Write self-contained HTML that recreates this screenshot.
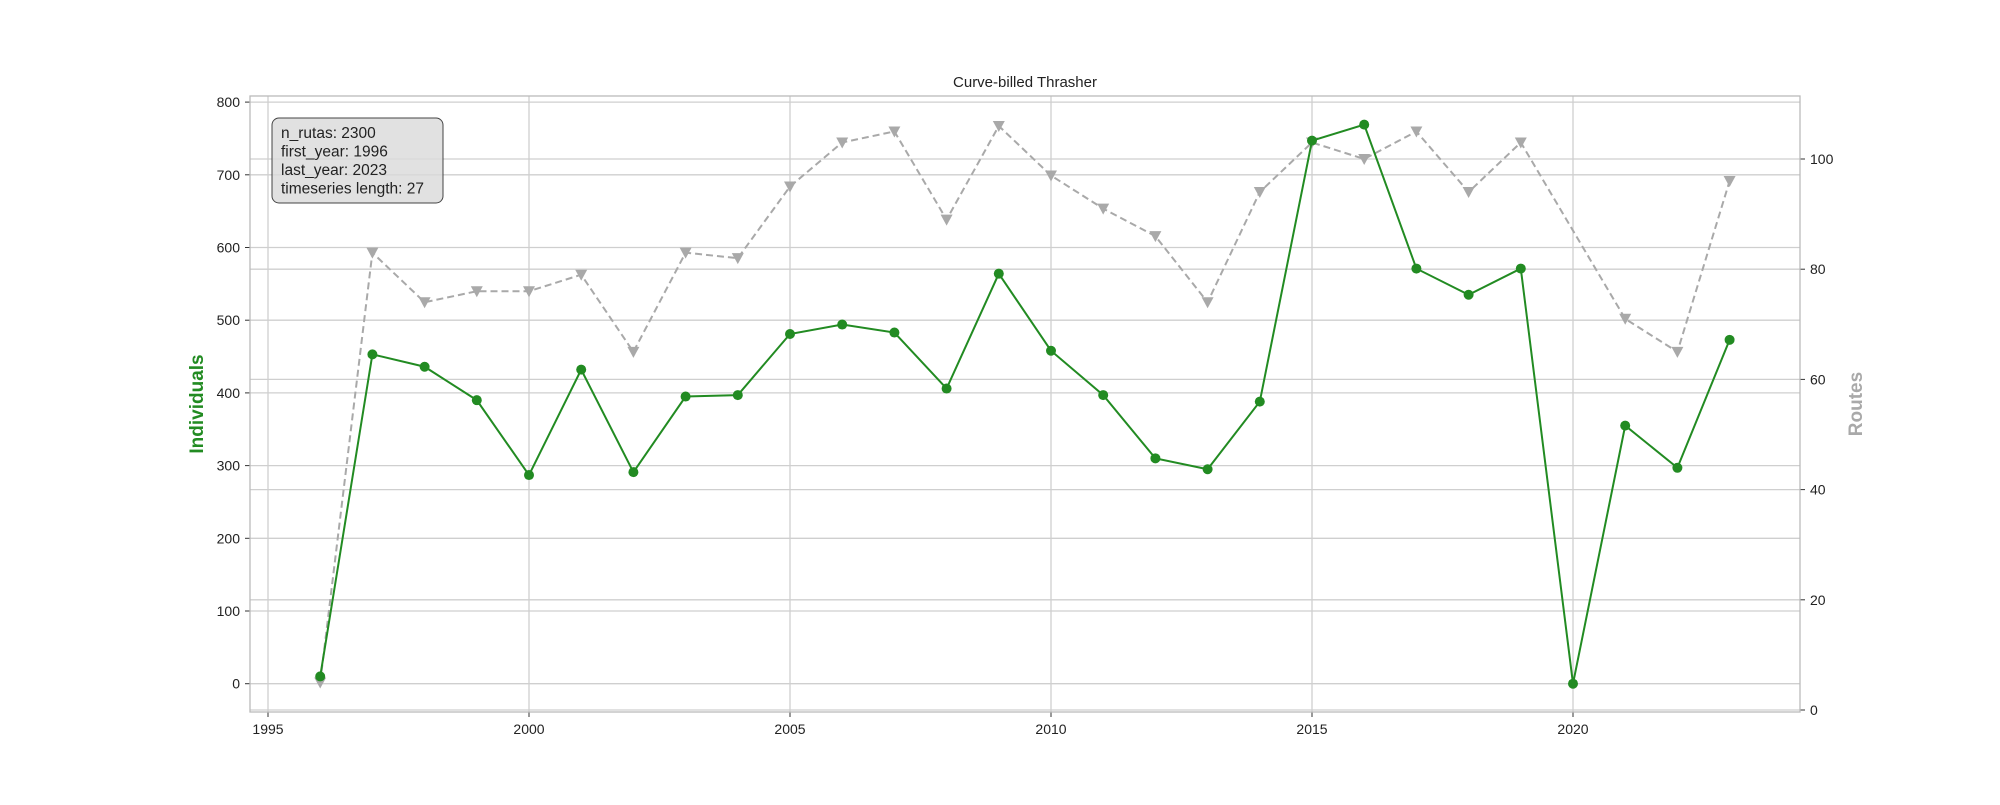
<!DOCTYPE html>
<html><head><meta charset="utf-8"><style>
body{margin:0;background:#fff;}
svg text{font-family:"Liberation Sans","DejaVu Sans",sans-serif;}
</style></head><body>
<svg id="chart" width="2000" height="800" xmlns="http://www.w3.org/2000/svg">
<rect width="2000" height="800" fill="#fff"/>
<g id="grid"></g>
<g id="series"></g>
<g id="axes"></g>
<text x="1025" y="87" text-anchor="middle" font-size="15" fill="#222">Curve-billed Thrasher</text>
<text transform="translate(203,404) rotate(-90)" text-anchor="middle" font-size="19" font-weight="bold" fill="#228b22">Individuals</text>
<text transform="translate(1862,404) rotate(-90)" text-anchor="middle" font-size="19" font-weight="bold" fill="#a9a9a9">Routes</text>
<g>
<rect x="272" y="118" width="171" height="85" rx="7" fill="#d9d9d9" fill-opacity="0.8" stroke="#444" stroke-width="1"/>
<text font-size="15.5" fill="#222"><tspan x="281" y="138">n_rutas: 2300</tspan><tspan x="281" y="156.5">first_year: 1996</tspan><tspan x="281" y="175">last_year: 2023</tspan><tspan x="281" y="193.5">timeseries length: 27</tspan></text>
</g>
</svg>
<script>
const years=[1996,1997,1998,1999,2000,2001,2002,2003,2004,2005,2006,2007,2008,2009,2010,2011,2012,2013,2014,2015,2016,2017,2018,2019,2020,2021,2022,2023];
const individuals=[10,453,436,390,287,432,291,395,397,481,494,483,406,564,458,397,310,295,388,747,769,571,535,571,0,355,297,473];
const routes=[5,83,74,76,76,79,65,83,82,95,103,105,89,106,97,91,86,74,94,103,100,105,94,103,null,71,65,96];
const xTicks=[1995,2000,2005,2010,2015,2020];
const yLeftTicks=[0,100,200,300,400,500,600,700,800];
const yRightTicks=[0,20,40,60,80,100];
const L=250,R=1800,T=96,B=712;
const x=v=>268+(v-1995)*52.2;
const yL=v=>683.7-v*0.727;
const yR=v=>710-v*5.51;
const NS="http://www.w3.org/2000/svg";
function mk(p,t,a){const e=document.createElementNS(NS,t);for(const k in a)e.setAttribute(k,a[k]);p.appendChild(e);return e;}
const grid=document.getElementById('grid'),ser=document.getElementById('series'),ax=document.getElementById('axes');
xTicks.forEach(t=>{
const g=mk(grid,'line',{x1:x(t),x2:x(t),y1:T,y2:B,stroke:'#cfcfcf','stroke-width':1.3});


mk(ax,'line',{x1:x(t),x2:x(t),y1:B,y2:B+5,stroke:'#333'});
const tx=mk(ax,'text',{x:x(t),y:B+22,'text-anchor':'middle','font-size':14,fill:'#222'});tx.textContent=t;


});
yLeftTicks.forEach(t=>{
const g=mk(grid,'line',{x1:L,x2:R,y1:yL(t),y2:yL(t),stroke:'#cfcfcf','stroke-width':1.3});


mk(ax,'line',{x1:L-5,x2:L,y1:yL(t),y2:yL(t),stroke:'#333'});
const tx=mk(ax,'text',{x:L-10,y:yL(t)+5,'text-anchor':'end','font-size':14,fill:'#222'});tx.textContent=t;


});
yRightTicks.forEach(t=>{
const g=mk(grid,'line',{x1:L,x2:R,y1:yR(t),y2:yR(t),stroke:'#cfcfcf','stroke-width':1.3});


mk(ax,'line',{x1:R,x2:R+5,y1:yR(t),y2:yR(t),stroke:'#333'});
const tx=mk(ax,'text',{x:R+10,y:yR(t)+5,'font-size':14,fill:'#222'});tx.textContent=t;


});
const frame=mk(ax,'rect',{x:L,y:T,width:R-L,height:B-T,fill:'none',stroke:'#bbb','stroke-width':1.3});


// routes
const rp=[];years.forEach((yr,i)=>{if(routes[i]!=null)rp.push(x(yr)+','+yR(routes[i]));});
const rl=mk(ser,'polyline',{points:rp.join(' '),fill:'none',stroke:'#a9a9a9','stroke-width':2,'stroke-dasharray':'7,4'});


years.forEach((yr,i)=>{if(routes[i]==null)return;const cx=x(yr),cy=yR(routes[i]);
const m=mk(ser,'polygon',{points:`${cx-6},${cy-5} ${cx+6},${cy-5} ${cx},${cy+6}`,fill:'#a9a9a9'});

});
// individuals
const ip=years.map((yr,i)=>x(yr)+','+yL(individuals[i])).join(' ');
const il=mk(ser,'polyline',{points:ip,fill:'none',stroke:'#228b22','stroke-width':2});


years.forEach((yr,i)=>{
const c=mk(ser,'circle',{cx:x(yr),cy:yL(individuals[i]),r:5,fill:'#228b22'});

});
</script>
</body></html>
